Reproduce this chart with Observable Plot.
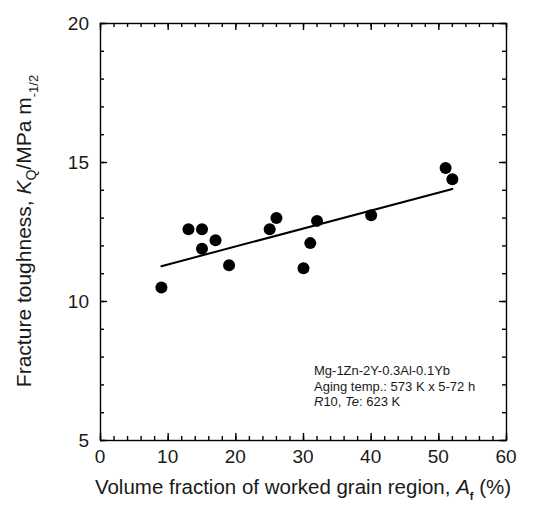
<!DOCTYPE html>
<html><head><meta charset="utf-8">
<script src="https://cdn.jsdelivr.net/npm/d3@7"></script>
<script src="https://cdn.jsdelivr.net/npm/@observablehq/plot@0.6"></script>
<style>body{margin:0;background:#fff} svg{display:block}</style>
</head><body><div id="chart"></div>
<script>
const volumeFraction = [9, 13, 15, 15, 17, 19, 25, 26, 30, 31, 32, 40, 51, 52];
const toughness = [10.5, 12.6, 12.6, 11.9, 12.2, 11.3, 12.6, 13.0, 11.2, 12.1, 12.9, 13.1, 14.8, 14.4];
const fitX = [9, 52];
const fitY = [11.27, 14.05];
const xTicks = [0, 10, 20, 30, 40, 50, 60];
const yTicks = [5, 10, 15, 20];
const xMinor = d3.range(0, 61, 2);
const yMinor = d3.range(5, 21, 1);

const points = volumeFraction.map((x, i) => ({x, y: toughness[i]}));
const fit = fitX.map((x, i) => ({x, y: fitY[i]}));

const ink = "#000";
const font = "Liberation Sans";
const W = 539, H = 515, mL = 100, mR = 33, mT = 23, mB = 75;
const fw = W - mL - mR, fh = H - mT - mB;
const tw = 1.4;

const plot = Plot.plot({
  width: W, height: H,
  marginLeft: mL, marginRight: mR, marginTop: mT, marginBottom: mB,
  style: {fontFamily: font, color: ink, background: "#fff"},
  x: {domain: [0, 60], axis: null},
  y: {domain: [5, 20], axis: null},
  marks: [
    Plot.tickX(xMinor, {x: d => d, stroke: ink, strokeWidth: tw, insetTop: fh - 4}),
    Plot.tickX(xMinor, {x: d => d, stroke: ink, strokeWidth: tw, insetBottom: fh - 4}),
    Plot.tickY(yMinor, {y: d => d, stroke: ink, strokeWidth: tw, insetRight: fw - 4}),
    Plot.tickY(yMinor, {y: d => d, stroke: ink, strokeWidth: tw, insetLeft: fw - 4}),
    Plot.tickX(xTicks, {x: d => d, stroke: ink, strokeWidth: tw, insetTop: fh - 7}),
    Plot.tickX(xTicks, {x: d => d, stroke: ink, strokeWidth: tw, insetBottom: fh - 7}),
    Plot.tickY(yTicks, {y: d => d, stroke: ink, strokeWidth: tw, insetRight: fw - 7}),
    Plot.tickY(yTicks, {y: d => d, stroke: ink, strokeWidth: tw, insetLeft: fw - 7}),
    Plot.frame({stroke: ink, strokeWidth: 1.4}),
    Plot.line(fit, {x: "x", y: "y", stroke: "#000", strokeWidth: 2}),
    Plot.dot(points, {x: "x", y: "y", r: 6, fill: "#000"})
  ]
});
document.getElementById("chart").append(plot);

const sx = plot.scale("x"), sy = plot.scale("y");
const svg = d3.select(plot);
const x0 = mL, y1 = H - mB;
const txt = "#1a1a1a";

// tick labels
const lg = svg.append("g").attr("font-family", font).attr("font-size", 19).attr("fill", txt);
xTicks.forEach(v => lg.append("text").attr("x", sx.apply(v)).attr("y", y1 + 23)
  .attr("text-anchor", "middle").text(String(v)));
yTicks.forEach(v => lg.append("text").attr("x", x0 - 11).attr("y", sy.apply(v)).attr("dy", "0.35em")
  .attr("text-anchor", "end").text(String(v)));

// y-axis title
const yl = svg.append("text")
  .attr("transform", "translate(31,231) rotate(-90)")
  .attr("text-anchor", "middle")
  .attr("font-family", font).attr("font-size", 21).attr("fill", txt);
yl.append("tspan").text("Fracture toughness, ");
yl.append("tspan").attr("font-style", "italic").text("K");
yl.append("tspan").attr("font-size", 14).attr("dy", 5).text("Q");
yl.append("tspan").attr("dy", -5).text("/MPa m");
yl.append("tspan").attr("font-size", 13).attr("dy", 7).text("-1/2");

// x-axis title
const xl = svg.append("text")
  .attr("x", 303).attr("y", 494)
  .attr("text-anchor", "middle")
  .attr("font-family", font).attr("font-size", 20.5).attr("fill", txt);
xl.append("tspan").text("Volume fraction of worked grain region, ");
xl.append("tspan").attr("font-style", "italic").text("A");
xl.append("tspan").attr("font-size", 11).attr("font-weight", "bold").attr("dy", 6).text("f");
xl.append("tspan").attr("dy", -6).text(" (%)");

// annotation
const note = svg.append("text")
  .attr("text-anchor", "start")
  .attr("font-family", font).attr("font-size", 13).attr("fill", txt);
note.append("tspan").attr("x", 314).attr("y", 375).text("Mg-1Zn-2Y-0.3Al-0.1Yb");
note.append("tspan").attr("x", 314).attr("y", 390.5).text("Aging temp.: 573 K x 5-72 h");
note.append("tspan").attr("x", 314).attr("y", 406).attr("font-style", "italic").text("R");
note.append("tspan").text("10, ");
note.append("tspan").attr("font-style", "italic").text("Te");
note.append("tspan").text(": 623 K");
</script>
</body></html>
